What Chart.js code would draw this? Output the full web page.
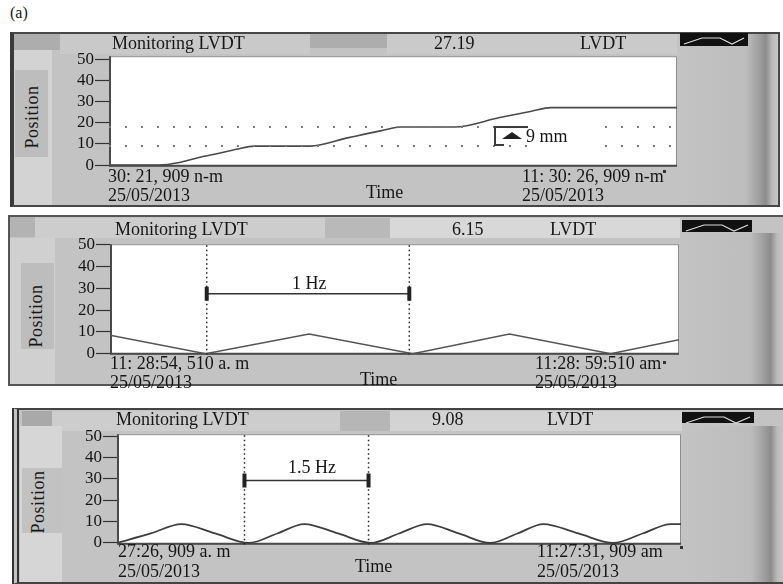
<!DOCTYPE html>
<html>
<head>
<meta charset="utf-8">
<script src="https://cdn.jsdelivr.net/npm/chart.js@4.4.1/dist/chart.umd.min.js"></script>
<style>
  body { margin: 0; width: 783px; height: 584px; background: #fff; position: relative; overflow: hidden;
         font-family: 'Liberation Serif', 'Times New Roman', serif; color: #161616; }
  .box { position: absolute; box-sizing: border-box; }
  .frame { position: absolute; box-sizing: border-box; background: #c3c3c3; }
  .side { background: linear-gradient(to right, #c3c3c3 0%, #bdbdbd 68%, #a2a2a2 80%, #8c8c8c 88%, #b9b9b9 94%, #c6c6c6 100%); }
  .icon { position: absolute; background: #111; }
  .t { position: absolute; white-space: nowrap; font-size: 18px; line-height: 20px; z-index: 3; }
  .pos { position: absolute; font-size: 18px; line-height: 20px; letter-spacing: 0.5px; transform: translate(-50%, -50%) rotate(-90deg); white-space: nowrap; z-index: 3; }
  canvas { position: absolute; z-index: 2; }
  .dot { position: absolute; width: 3px; height: 3px; background: #333; z-index: 3; }
</style>
</head>
<body>

<div class="t" style="left:10px;top:3px;font-size:16px">(a)</div>

<!-- panel 1 chrome -->
<div class="frame" style="left:10px;top:32px;width:770px;height:175px;border:2px solid #474747;border-left:4px solid #3a3a3a"></div>
<div class="box" style="left:14px;top:34px;width:46px;height:16px;background:#adadad"></div>
<div class="box" style="left:60px;top:34px;width:250px;height:20px;background:#c9c9c9"></div>
<div class="box" style="left:310px;top:34px;width:77px;height:14px;background:#adadad"></div>
<div class="box" style="left:387px;top:34px;width:290px;height:20px;background:#cacaca"></div>
<div class="box" style="left:14px;top:50px;width:38px;height:155px;background:#d3d3d3"></div>
<div class="box" style="left:15px;top:70px;width:33px;height:87px;background:#bdbdbd"></div>
<div class="box side" style="left:677px;top:34px;width:101px;height:171px"></div>
<div class="icon" style="left:680px;top:33px;width:68px;height:13px"><svg width="68" height="13"><polyline points="4,10 22,4 40,4 52,10 64,4" fill="none" stroke="#ddd" stroke-width="1.2"/></svg></div>

<!-- panel 2 chrome -->
<div class="frame" style="left:8px;top:215px;width:775px;height:171px;border:2px solid #555;border-right:none"></div>
<div class="box" style="left:10px;top:217px;width:25px;height:20px;background:#b3b3b3"></div>
<div class="box" style="left:35px;top:218px;width:290px;height:20px;background:#cdcdcd"></div>
<div class="box" style="left:325px;top:218px;width:65px;height:20px;background:#b9b9b9"></div>
<div class="box" style="left:390px;top:218px;width:290px;height:20px;background:#d8d8d8"></div>
<div class="box" style="left:10px;top:238px;width:45px;height:146px;background:#d0d0d0"></div>
<div class="box" style="left:21px;top:263px;width:33px;height:86px;background:#bdbdbd"></div>
<div class="box side" style="left:680px;top:233px;width:103px;height:151px"></div>
<div class="icon" style="left:682px;top:220px;width:70px;height:12px"><svg width="70" height="12"><polyline points="4,9 22,3 40,3 52,9 66,3" fill="none" stroke="#ddd" stroke-width="1.2"/></svg></div>

<!-- panel 3 chrome -->
<div class="frame" style="left:12px;top:408px;width:771px;height:176px;border:2px solid #444;border-left:7px double #333;border-right:none"></div>
<div class="box" style="left:22px;top:411px;width:30px;height:15px;background:#a9a9a9"></div>
<div class="box" style="left:52px;top:411px;width:288px;height:20px;background:#cdcdcd"></div>
<div class="box" style="left:340px;top:411px;width:50px;height:20px;background:#b6b6b6"></div>
<div class="box" style="left:390px;top:411px;width:292px;height:20px;background:#d3d3d3"></div>
<div class="box" style="left:20px;top:426px;width:42px;height:156px;background:#d6d6d6"></div>
<div class="box" style="left:22px;top:468px;width:40px;height:65px;background:#c2c2c2"></div>
<div class="box side" style="left:682px;top:426px;width:101px;height:156px"></div>
<div class="icon" style="left:682px;top:412px;width:72px;height:11px"><svg width="72" height="11"><polyline points="4,8 22,2 42,2 54,8 68,2" fill="none" stroke="#ddd" stroke-width="1.2"/></svg></div>

<!-- plots -->
<canvas id="plot1" width="628" height="133" style="left:59px;top:45px"></canvas>
<canvas id="plot2" width="630" height="133" style="left:60px;top:233px"></canvas>
<canvas id="plot3" width="625" height="133" style="left:67px;top:423px"></canvas>

<!-- panel 1 text -->
<div class="t" style="left:112px;top:33px">Monitoring LVDT</div>
<div class="t" style="left:434px;top:33px">27.19</div>
<div class="t" style="left:580px;top:33px">LVDT</div>
<div class="pos" style="left:32px;top:117px">Position</div>
<div class="t" style="left:108px;top:166px">30: 21, 909 n-m</div>
<div class="t" style="left:108px;top:185px">25/05/2013</div>
<div class="t" style="left:366px;top:182px">Time</div>
<div class="t" style="left:522px;top:166px">11: 30: 26, 909 n-m</div>
<div class="t" style="left:522px;top:185px">25/05/2013</div>
<div class="dot" style="left:663px;top:170px"></div>
<div class="box" style="left:527px;top:123px;width:66px;height:27px;background:#fff;z-index:2"></div>
<div class="box" style="left:494px;top:126px;width:34px;height:20px;border-left:2px solid #3c3c3c;border-top:2px solid #3c3c3c;z-index:3"></div>
<div class="box" style="left:494px;top:144px;width:10px;height:2px;background:#3c3c3c;z-index:3"></div>
<div class="box" style="left:502px;top:132px;width:0;height:0;border-left:10px solid transparent;border-right:10px solid transparent;border-bottom:7px solid #222;z-index:3"></div>
<div class="t" style="left:526px;top:126px">9 mm</div>

<!-- panel 2 text -->
<div class="t" style="left:115px;top:219px">Monitoring LVDT</div>
<div class="t" style="left:452px;top:219px">6.15</div>
<div class="t" style="left:550px;top:219px">LVDT</div>
<div class="pos" style="left:36px;top:316px">Position</div>
<div class="t" style="left:292px;top:273px">1 Hz</div>
<div class="t" style="left:110px;top:353px">11: 28:54, 510 a. m</div>
<div class="t" style="left:110px;top:372px">25/05/2013</div>
<div class="t" style="left:360px;top:369px">Time</div>
<div class="t" style="left:535px;top:353px">11:28: 59:510 am</div>
<div class="t" style="left:535px;top:372px">25/05/2013</div>
<div class="dot" style="left:663px;top:361px"></div>

<!-- panel 3 text -->
<div class="t" style="left:116px;top:409px">Monitoring LVDT</div>
<div class="t" style="left:432px;top:409px">9.08</div>
<div class="t" style="left:547px;top:409px">LVDT</div>
<div class="pos" style="left:38px;top:502px">Position</div>
<div class="t" style="left:288px;top:457px">1.5 Hz</div>
<div class="t" style="left:118px;top:541px">27:26, 909 a. m</div>
<div class="t" style="left:118px;top:561px">25/05/2013</div>
<div class="t" style="left:355px;top:556px">Time</div>
<div class="t" style="left:537px;top:541px">11:27:31, 909 am</div>
<div class="t" style="left:537px;top:561px">25/05/2013</div>
<div class="dot" style="left:680px;top:546px"></div>

<script>
// eixo Y comum aos três registros (mm)
const yTicks = [0, 10, 20, 30, 40, 50];

// painel 1 — deslocamento em degraus de 9 mm (tempo em s desde 11:30:21,909)
const p1Time = [0, 0.44, 0.62, 0.80, 0.97, 1.12, 1.28, 1.77, 2.11, 2.40, 2.57, 3.04, 3.44, 3.72, 3.89, 5.0];
const p1Pos  = [0, 0, 1.2, 3.7, 5.6, 7.5, 9, 9, 13, 16.3, 18, 18, 22.5, 25.5, 27.2, 27.2];
const p1Cursors = [18, 9];

// painel 2 — onda triangular (tempo em s desde 11:28:54,510)
const p2Time = [0, 0.84, 1.75, 2.66, 3.51, 4.40, 5.0];
const p2Pos  = [8.5, 0, 9, 0, 9, 0, 6.4];
const p2Marks = [0.85, 2.63];
const p2Bar = 27.5;

// painel 3 — senoide (tempo em s desde 11:27:26,909)
const p3Time = [0, 0.30, 0.57, 0.87, 1.17, 1.42, 1.66, 1.96, 2.25, 2.50, 2.75, 3.03, 3.31, 3.55, 3.78, 4.09, 4.40, 4.66, 4.91, 5.0];
const p3Pos  = [0, 4.4, 8.8, 4.4, 0, 4.4, 8.8, 4.4, 0, 4.4, 8.8, 4.4, 0, 4.4, 8.8, 4.4, 0, 4.4, 8.8, 8.8];
const p3Marks = [1.13, 2.23];
const p3Bar = 29.2;

const toXY = (xs, ys) => xs.map((x, i) => ({ x, y: ys[i] }));

// fundo branco + moldura do gráfico
const plotFrame = {
  id: 'plotFrame',
  beforeDraw(c) {
    const a = c.chartArea, ctx = c.ctx;
    ctx.save();
    ctx.fillStyle = '#fff';
    ctx.fillRect(a.left, a.top, a.width, a.height);
    ctx.restore();
  },
  beforeDatasetsDraw(c) {
    const a = c.chartArea, ctx = c.ctx;
    ctx.save();
    ctx.strokeStyle = '#8c8c8c';
    ctx.lineWidth = 1;
    ctx.strokeRect(a.left + 0.5, a.top + 0.5, a.width - 1, a.height - 1);
    ctx.strokeStyle = '#4a4a4a';
    ctx.lineWidth = 2;
    ctx.beginPath();
    ctx.moveTo(a.left + 1, a.top);
    ctx.lineTo(a.left + 1, a.bottom - 1);
    ctx.lineTo(a.right, a.bottom - 1);
    ctx.stroke();
    ctx.restore();
  },
};

function plot(id, yMin, yMax, datasets) {
  return new Chart(document.getElementById(id), {
    type: 'line',
    data: { datasets },
    options: {
      responsive: false,
      animation: false,
      layout: { padding: { top: 10, right: 10, bottom: 10, left: 0 } },
      plugins: { legend: { display: false }, tooltip: { enabled: false } },
      elements: { point: { radius: 0 } },
      scales: {
        x: { type: 'linear', min: 0, max: 5, display: false },
        y: {
          min: yMin, max: yMax,
          afterBuildTicks: s => { s.ticks = yTicks.map(v => ({ value: v })); },
          afterFit: s => { s.width = 50; },
          ticks: { color: '#151515', font: { family: 'Liberation Serif', size: 17 }, padding: 1, autoSkip: false },
          grid: { drawOnChartArea: false, tickLength: 14, color: '#333', tickWidth: 1.2 },
          border: { display: false },
        },
      },
    },
    plugins: [plotFrame],
  });
}

const trace = (xs, ys, extra) => Object.assign({ data: toXY(xs, ys), borderColor: '#4a4a4a', borderWidth: 1.6, pointRadius: 0 }, extra);
const vLine = (t, lo, hi) => ({ data: [{ x: t, y: lo }, { x: t, y: hi }], borderColor: '#222', borderWidth: 1.5, borderDash: [1.5, 3], pointRadius: 0 });
const bar = (marks, v) => ({
  data: marks.map(t => ({ x: t, y: v })), borderColor: '#333', borderWidth: 1.6,
  pointStyle: 'line', pointRotation: 90, pointRadius: 7, pointBorderWidth: 4, pointBorderColor: '#222',
});

plot('plot1', -0.8, 51.5, [
  ...p1Cursors.map(v => ({ data: [{ x: 0, y: v }, { x: 5, y: v }], borderColor: '#7a7a7a', borderWidth: 2, borderDash: [2, 14], pointRadius: 0 })),
  trace(p1Time, p1Pos, { cubicInterpolationMode: 'monotone' }),
]);

plot('plot2', -0.5, 50.2, [
  ...p2Marks.map(t => vLine(t, -0.5, 50.2)),
  bar(p2Marks, p2Bar),
  trace(p2Time, p2Pos, { borderColor: '#555' }),
]);

plot('plot3', -0.9, 50.9, [
  ...p3Marks.map(t => vLine(t, -0.9, 50.9)),
  bar(p3Marks, p3Bar),
  trace(p3Time, p3Pos, { cubicInterpolationMode: 'monotone', borderColor: '#3e3e3e', borderWidth: 1.8 }),
]);
</script>
</body>
</html>
